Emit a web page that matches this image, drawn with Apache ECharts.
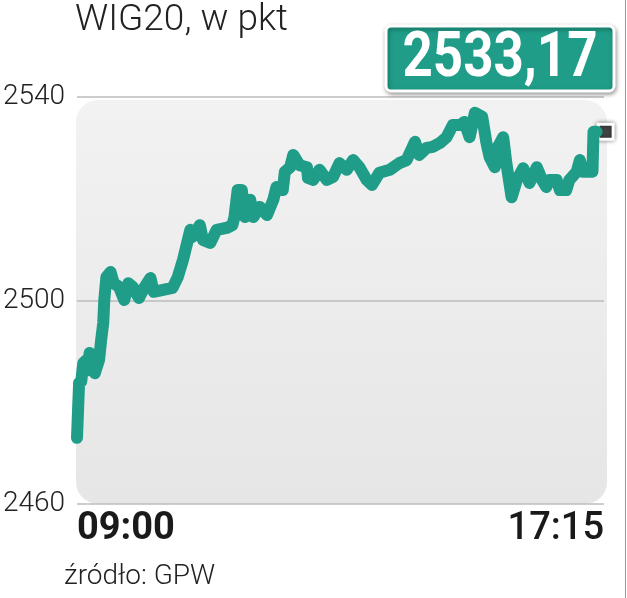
<!DOCTYPE html>
<html>
<head>
<meta charset="utf-8">
<script src="https://cdn.jsdelivr.net/npm/echarts@6/dist/echarts.min.js"></script>
<style>
html,body{margin:0;padding:0;background:#fff;}
#chart{width:627px;height:598px;}
</style>
</head>
<body>
<div id="chart"></div>
<script>
// ---- data ----
const titleText = 'WIG20, w pkt';
const sourceText = 'źródło: GPW';
const times = ['09:00','09:01','09:02','09:04','09:06','09:09','09:10','09:12','09:15','09:17',
  '09:21','09:23','09:25','09:26','09:28','09:32','09:35','09:40','09:45','09:49',
  '09:53','09:59','10:04','10:10','10:13','10:22','10:31','10:36','10:41','10:48',
  '10:50','10:57','11:00','11:07','11:13','11:23','11:28','11:30','11:33','11:37',
  '11:40','11:45','11:48','11:54','12:01','12:07','12:10','12:16','12:18','12:23',
  '12:26','12:32','12:39','12:40','12:45','12:51','12:58','13:04','13:10','13:17',
  '13:23','13:29','13:36','13:41','13:48','13:58','14:07','14:14','14:22','14:26',
  '14:33','14:39','14:46','14:52','14:58','15:05','15:09','15:14','15:19','15:26',
  '15:30','15:33','15:38','15:41','15:46','15:49','15:54','15:59','16:05','16:11',
  '16:18','16:23','16:27','16:30','16:37','16:40','16:46','16:49','16:56','16:59',
  '17:02','17:11','17:12','17:15'];
const values = [2473.0,2478.5,2483.8,2484.0,2487.7,2488.3,2486.3,2489.7,2488.3,2485.7,
  2488.3,2492.2,2495.6,2500.1,2504.6,2505.6,2503.4,2502.7,2500.1,2503.4,
  2502.7,2500.5,2502.5,2504.4,2501.7,2502.1,2502.5,2504.6,2508.0,2513.9,
  2512.5,2514.8,2511.9,2511.3,2513.9,2514.3,2514.8,2516.4,2521.7,2521.7,
  2516.4,2519.8,2516.4,2518.4,2516.8,2519.8,2522.3,2521.7,2525.3,2526.2,
  2528.6,2526.6,2526.2,2524.1,2523.7,2525.7,2523.7,2524.3,2527.0,2525.7,
  2527.6,2526.2,2523.7,2522.7,2525.1,2525.7,2527.0,2527.6,2531.2,2528.6,
  2530.0,2530.2,2531.0,2532.1,2534.5,2534.5,2535.1,2532.1,2536.9,2536.1,
  2531.0,2528.2,2526.2,2530.2,2532.1,2527.0,2520.3,2523.7,2526.0,2523.1,
  2526.2,2523.7,2522.3,2523.7,2523.7,2521.7,2521.7,2523.7,2525.3,2527.6,
  2525.3,2525.3,2533.17,2533.17];
const xTickLabels = ['09:00', '17:15'];
const yTicks = [2460, 2500, 2540];

// ---- build ----
const toMin = t => { const p = t.split(':'); return (+p[0] - 9) * 60 + (+p[1]); };
const seriesData = times.map((t, i) => [toMin(t), values[i]]);
const lastVal = values[values.length - 1];
const lastText = lastVal.toFixed(2).replace('.', ',');
const TEAL = '#1f9d88';

const chart = echarts.init(document.getElementById('chart'), null, {renderer: 'canvas'});
chart.setOption({
  animation: false,
  backgroundColor: '#ffffff',
  title: [
    {text: titleText, left: 75, top: 2, padding: 0,
     textStyle: {fontFamily: 'Roboto', fontWeight: 300, fontSize: 37, color: '#222'}},
    {text: sourceText, left: 64, top: 563, padding: 0,
     textStyle: {fontFamily: 'Roboto', fontWeight: 300, fontSize: 28, color: '#222'}}
  ],
  grid: {left: 77, right: 23, top: 97, bottom: 94, containLabel: false, outerBoundsMode: 'none'},
  xAxis: {
    type: 'value', min: 0, max: 502, interval: 502,
    axisLine: {show: false}, axisTick: {show: false}, splitLine: {show: false},
    axisLabel: {
      margin: 6, showMinLabel: true, showMaxLabel: true,
      alignMinLabel: 'left', alignMaxLabel: 'right',
      formatter: v => v === 0 ? '{a|' + xTickLabels[0] + '}' : '{b|' + xTickLabels[1] + '}',
      rich: {
        a: {fontFamily: 'Roboto', fontWeight: 700, fontSize: 38, color: '#1a1a1a'},
        b: {fontFamily: 'Roboto', fontWeight: 500, fontSize: 38, color: '#1a1a1a'}
      }
    }
  },
  yAxis: {
    type: 'value', min: yTicks[0], max: yTicks[yTicks.length - 1], interval: yTicks[1] - yTicks[0],
    axisLine: {show: false}, axisTick: {show: false},
    splitLine: {show: true, lineStyle: {color: '#bdbdbd', width: 1.5}},
    axisLabel: {margin: 12, fontFamily: 'Roboto', fontWeight: 300, fontSize: 28, color: '#222',
                formatter: v => String(v)}
  },
  graphic: [
    {type: 'rect', z: -10, silent: true,
     shape: {x: 76, y: 100, width: 531, height: 404, r: 22},
     style: {fill: new echarts.graphic.LinearGradient(0, 0, 0, 1, [
       {offset: 0, color: '#f2f2f2'}, {offset: 1, color: '#e6e6e6'}])}},
    {type: 'line', z: 10, silent: true,
     shape: {x1: 625.5, y1: 0, x2: 625.5, y2: 598},
     style: {stroke: '#9a9a9a', lineWidth: 1}},
    {type: 'rect', z: 20, shape: {x: 386, y: 26, width: 228, height: 65, r: 5},
     style: {fill: TEAL, stroke: '#ffffff', lineWidth: 3,
             shadowBlur: 4, shadowOffsetX: 1, shadowOffsetY: 2, shadowColor: 'rgba(0,0,0,0.35)'}},
    {type: 'text', z: 21, x: 500, y: 60, scaleX: 0.84, scaleY: 1,
     style: {x: 0, y: 0, text: lastText, align: 'center', verticalAlign: 'middle',
       fill: '#ffffff', font: 'bold 63px Roboto'}}
  ],
  series: [{
    type: 'line', data: seriesData, showSymbol: false, z: 5,
    lineStyle: {color: TEAL, width: 12, cap: 'round', join: 'round'},
    markPoint: {
      symbol: 'rect', symbolSize: 15, symbolOffset: [9, 0], silent: true,
      label: {show: false},
      itemStyle: {color: '#444', borderColor: '#fff', borderWidth: 3,
                  shadowBlur: 4, shadowColor: 'rgba(0,0,0,0.45)'},
      data: [{coord: seriesData[seriesData.length - 1]}]
    }
  }]
});
</script>
</body>
</html>
